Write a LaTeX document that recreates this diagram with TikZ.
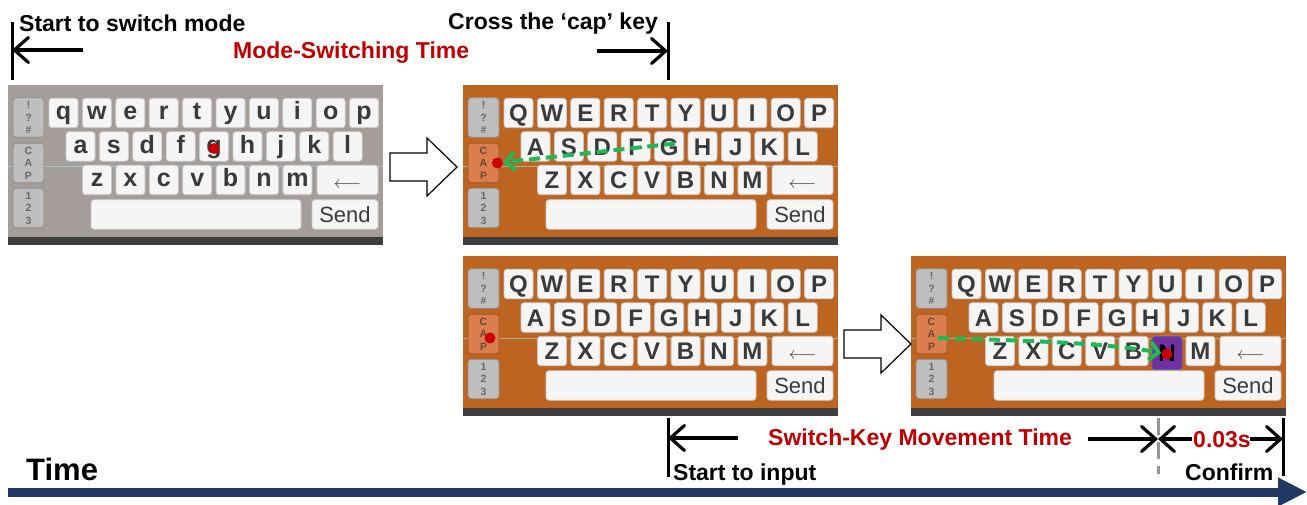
\documentclass[tikz,border=0pt]{standalone}
\usepackage{fontspec}
\setmainfont{Liberation Sans}
\usetikzlibrary{arrows.meta,positioning}

\definecolor{kbGray}{RGB}{165,157,154}
\definecolor{kbOrange}{RGB}{189,101,32}
\definecolor{kbDark}{RGB}{62,62,62}
\definecolor{keyWhite}{RGB}{245,245,245}
\definecolor{keyEdge}{RGB}{200,200,200}
\definecolor{keyText}{RGB}{58,58,58}
\definecolor{sideGray}{RGB}{190,190,190}
\definecolor{sideEdge}{RGB}{140,140,140}
\definecolor{sideText}{RGB}{105,105,105}
\definecolor{capOrange}{RGB}{217,126,76}
\definecolor{capEdge}{RGB}{160,84,38}
\definecolor{capText}{RGB}{110,70,50}
\definecolor{hitPurple}{RGB}{112,48,160}
\definecolor{hitEdge}{RGB}{80,92,185}
\definecolor{dotRed}{RGB}{205,0,0}
\definecolor{swipeGreen}{RGB}{32,185,88}
\definecolor{labelRed}{RGB}{192,0,0}
\definecolor{axisBlue}{RGB}{31,56,100}
\definecolor{cutGray}{RGB}{150,150,150}
\definecolor{scanCyan}{RGB}{150,235,235}

\tikzstyle{kbKey} = [rectangle, rounded corners=3pt, minimum width=29pt, minimum height=29.5pt, inner sep=0pt,
fill=keyWhite, draw=keyEdge, line width=0.8pt, text=keyText, font=\fontsize{24}{24}\selectfont\bfseries,
text height=17.5pt, text depth=0pt]
\tikzstyle{lowKey} = [kbKey, font=\fontsize{25}{25}\selectfont\bfseries, text height=13.5pt]
\tikzstyle{sendKey} = [kbKey, font=\fontsize{22}{22}\selectfont, text height=16pt]
\tikzstyle{backKey} = [kbKey, font=\fontsize{16}{16}\selectfont]
\tikzstyle{sideKey} = [rectangle, rounded corners=3pt, minimum width=31pt, minimum height=39.5pt, inner sep=0pt,
fill=sideGray, draw=sideEdge, line width=0.8pt, text=sideText, align=center, font=\fontsize{10.5}{12.5}\selectfont\bfseries]
\tikzstyle{capKey} = [sideKey, fill=capOrange, draw=capEdge, text=capText]
\tikzstyle{hitKey} = [kbKey, minimum width=30pt, minimum height=33pt, fill=hitPurple, draw=hitEdge, text=black]
\tikzstyle{redDot} = [circle, fill=dotRed, minimum size=11pt, inner sep=0pt]
\tikzstyle{swipe} = [line width=4pt, draw=swipeGreen, dash pattern=on 11pt off 6pt, -{Straight Barb[length=9pt,width=18pt]}]
\tikzstyle{scanLine} = [line width=1pt, draw=scanCyan, opacity=0.6]
\tikzstyle{hollowArrow} = [draw=black, fill=white, line width=1.2pt, line join=miter]
\tikzstyle{timeBar} = [line width=3pt]
\tikzstyle{timeArrow} = [line width=3.2pt, -{Straight Barb[length=14pt,width=25pt,line cap=round]}]
\tikzstyle{cutLine} = [line width=3pt, draw=cutGray, dash pattern=on 17pt off 7pt]
\tikzstyle{timeAxis} = [line width=9pt, draw=axisBlue, -{Triangle[length=29pt,width=27pt]}]
\tikzstyle{blackLabel} = [font=\fontsize{23}{23}\selectfont\bfseries, inner sep=0pt, anchor=base west]
\tikzstyle{redLabel} = [blackLabel, text=labelRed]

% #1 name, #2 origin, #3 background, #4 key style, #5 cap style, #6-#8 letter rows
\newcommand{\keyboard}[8]{%
	\begin{scope}[shift={#2}]
		\fill[#3] (0,0) rectangle (375,160);
		\fill[kbDark] (0,152) rectangle (375,160);
		\draw[scanLine] (0,82) -- (375,82);
		\node[sideKey] (#1-sym) at (20.5,32.5) {!\\?\\\#};
		\node[#5] (#1-cap) at (20.5,78) {C\\A\\P};
		\node[sideKey] (#1-num) at (20.5,123) {1\\2\\3};
		\foreach \k [count=\i from 0] in {#6} \node[#4] (#1-\k) at (55.5+33.4*\i,28) {\k};
		\foreach \k [count=\i from 0] in {#7} \node[#4] (#1-\k) at (72.5+33.4*\i,61.5) {\k};
		\foreach \k [count=\i from 0] in {#8} \node[#4] (#1-\k) at (89+33.4*\i,95) {\k};
		\node[backKey, minimum width=61pt] (#1-back) at (339.5,95) {$\longleftarrow$};
		\node[kbKey, minimum width=210pt] (#1-space) at (188,129.5) {};
		\node[sendKey, minimum width=66pt] (#1-send) at (337,129.5) {Send};
	\end{scope}}

% #1 tail middle
\newcommand{\blockArrow}[1]{%
	\draw[hollowArrow] (#1) -- ++(0,-14) -- ++(37,0) -- ++(0,-15) -- ++(30,29) -- ++(-30,29) -- ++(0,-15) -- ++(-37,0) -- cycle;}

\begin{document}
\begin{tikzpicture}[x=1pt, y=-1pt]
		\useasboundingbox (0,0) rectangle (1307,505);
		
		%keyboards
		\keyboard{kb1}{(8,85)}{kbGray}{lowKey}{sideKey}{q,w,e,r,t,y,u,i,o,p}{a,s,d,f,g,h,j,k,l}{z,x,c,v,b,n,m}
		\keyboard{kb2}{(463,85)}{kbOrange}{kbKey}{capKey}{Q,W,E,R,T,Y,U,I,O,P}{A,S,D,F,G,H,J,K,L}{Z,X,C,V,B,N,M}
		\keyboard{kb3}{(463,256)}{kbOrange}{kbKey}{capKey}{Q,W,E,R,T,Y,U,I,O,P}{A,S,D,F,G,H,J,K,L}{Z,X,C,V,B,N,M}
		\keyboard{kb4}{(911,256)}{kbOrange}{kbKey}{capKey}{Q,W,E,R,T,Y,U,I,O,P}{A,S,D,F,G,H,J,K,L}{Z,X,C,V,B,N,M}
		\node[hitKey] (kb4-hit) at ([yshift=-2pt]kb4-N.center) {N};
		
		%touch points
		\node[redDot] (kb1-dot) at ([yshift=-2pt]kb1-g.center) {};
		\node[redDot] (kb2-dot) at ([xshift=-2pt]kb2-cap.east) {};
		\node[redDot] (kb3-dot) at ([xshift=6.5pt,yshift=-4pt]kb3-cap.center) {};
		\node[redDot] (kb4-dot) at ([yshift=-3pt]kb4-N.center) {};
		\coordinate (kb4-start) at ([xshift=6.5pt,yshift=-4pt]kb4-cap.center);
		
		%swipes
		\draw[swipe] ([xshift=6pt,yshift=3pt]kb2-G.center) -- (kb2-dot);
		\draw[swipe] (kb4-start) .. controls ([xshift=110pt,yshift=-3pt]kb4-start) and ([xshift=-55pt,yshift=10pt]kb4-dot) .. (kb4-dot);
		
		%block arrows
		\coordinate (stepA) at (390,167);
		\coordinate (stepB) at (844,344);
		\blockArrow{stepA}
		\blockArrow{stepB}
		
		%mode switching span
		\coordinate (swTop) at (12,22);
		\coordinate (swBot) at (12,80);
		\coordinate (swMid) at (12,50);
		\coordinate (swTail) at (83,50);
		\coordinate (crTop) at (668,22);
		\coordinate (crBot) at (668,80);
		\coordinate (crMid) at (668,51);
		\coordinate (crTail) at (597,51);
		\draw[timeBar] (swTop) -- (swBot);
		\draw[timeBar] (crTop) -- (crBot);
		\draw[timeArrow] (swTail) -- (swMid);
		\draw[timeArrow] (crTail) -- (crMid);
		\node[blackLabel] (startLbl) at (19,32) {Start to switch mode};
		\node[redLabel] (modeLbl) at (233,59) {Mode-Switching Time};
		\node[blackLabel] (crossLbl) at (448,30) {Cross the ‘cap’ key};
		
		%switch-key span
		\coordinate (inTop) at (668,418);
		\coordinate (inBot) at (668,477);
		\coordinate (inMid) at (668,438);
		\coordinate (inTail) at (738,438);
		\coordinate (cutTop) at (1158,418);
		\coordinate (cutBot) at (1158,474);
		\coordinate (cutMid) at (1158,439);
		\coordinate (mvTail) at (1088,439);
		\coordinate (okTail) at (1192,439);
		\coordinate (cfTail) at (1250,439);
		\coordinate (cfTop) at (1283,418);
		\coordinate (cfBot) at (1283,476);
		\coordinate (cfMid) at (1283,439);
		\draw[timeBar] (inTop) -- (inBot);
		\draw[timeBar] (cfTop) -- (cfBot);
		\draw[cutLine] (cutTop) -- (cutBot);
		\draw[timeArrow] (inTail) -- (inMid);
		\draw[timeArrow] (mvTail) -- (cutMid);
		\draw[timeArrow] (okTail) -- (cutMid);
		\draw[timeArrow] (cfTail) -- (cfMid);
		\node[redLabel] (moveLbl) at (768,445) {Switch-Key Movement Time};
		\node[redLabel] (gapLbl) at (1193,447) {0.03s};
		\node[blackLabel] (inputLbl) at (673,480) {Start to input};
		\node[blackLabel] (confirmLbl) at (1185,480) {Confirm};
		
		%time axis
		\coordinate (axisStart) at (8,492);
		\coordinate (axisEnd) at (1307,492);
		\draw[timeAxis] (axisStart) -- (axisEnd);
		\node[blackLabel, font=\fontsize{31}{31}\selectfont\bfseries] (timeLbl) at (26,480) {Time};
	\end{tikzpicture}
\end{document}
